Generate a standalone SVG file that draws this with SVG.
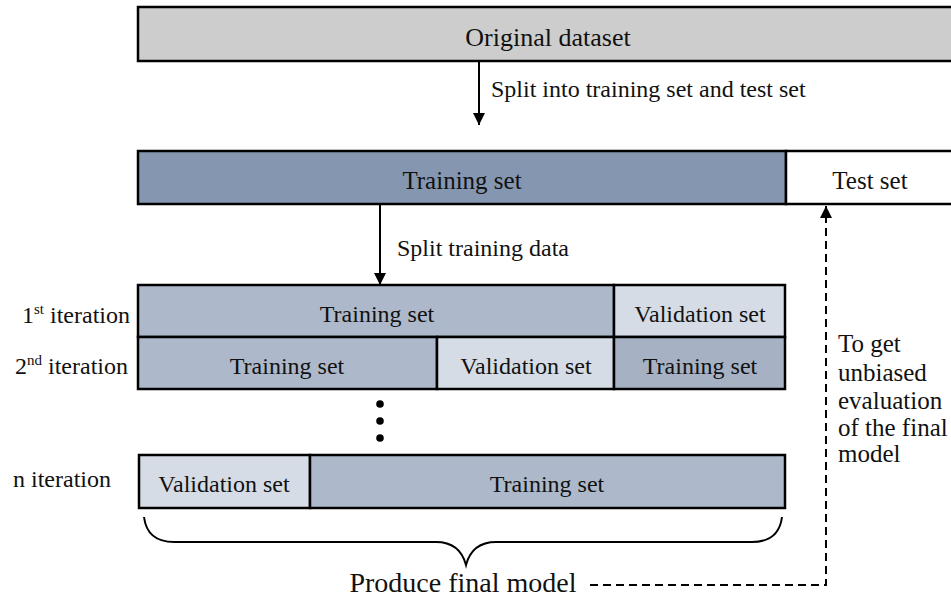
<svg xmlns="http://www.w3.org/2000/svg" width="951" height="598" viewBox="0 0 951 598">
  <defs>
    <style>
      .box { stroke: #000; stroke-width: 2.5; }
      .grey { fill: #cdcdcd; }
      .main { fill: #8496b0; }
      .train { fill: #adb9ca; }
      .train2 { fill: #a6b2c4; }
      .valid { fill: #d6dce5; }
      .white { fill: #ffffff; }
      text { font-family: "Liberation Serif", "Times New Roman", serif; fill: #111; }
      .c { text-anchor: middle; }
      .f24 { font-size: 24px; }
      .f25 { font-size: 25px; }
      .f26 { font-size: 26px; }
      .f28 { font-size: 28px; }
      .link { fill: none; stroke: #000; stroke-width: 2; }
      .dash { fill: none; stroke: #000; stroke-width: 2; stroke-dasharray: 8 5; }
    </style>
    <marker id="head" viewBox="0 0 12 12" refX="12" refY="6" markerWidth="12" markerHeight="12" markerUnits="userSpaceOnUse" orient="auto">
      <path d="M0,0 L12,6 L0,12 Z" fill="#000"/>
    </marker>
  </defs>

  <rect width="951" height="598" fill="#ffffff"/>

  <!-- full dataset -->
  <g id="original">
    <rect class="box grey" x="138" y="7" width="830" height="54"/>
    <text class="c f26" x="548" y="46">Original dataset</text>
  </g>

  <!-- first split -->
  <g id="train-main">
    <rect class="box main" x="138" y="151" width="648" height="53"/>
    <text class="c f25" x="462" y="189">Training set</text>
  </g>
  <g id="test">
    <rect class="box white" x="786" y="151" width="180" height="53"/>
    <text class="c f25" x="870" y="189">Test set</text>
  </g>

  <!-- iteration 1 -->
  <g id="it1">
    <rect class="box train" x="138" y="285" width="476" height="52"/>
    <text class="c f24" x="377" y="322">Training set</text>
    <rect class="box valid" x="614" y="285" width="171" height="52"/>
    <text class="c f24" x="700" y="322">Validation set</text>
  </g>

  <!-- iteration 2 -->
  <g id="it2">
    <rect class="box train" x="138" y="337" width="299" height="52"/>
    <text class="c f24" x="287" y="374">Training set</text>
    <rect class="box valid" x="437" y="337" width="177" height="52"/>
    <text class="c f24" x="526" y="374">Validation set</text>
    <rect class="box train2" x="614" y="337" width="171" height="52"/>
    <text class="c f24" x="700" y="374">Training set</text>
  </g>

  <!-- iteration n -->
  <g id="itn">
    <rect class="box valid" x="139" y="455" width="171" height="53"/>
    <text class="c f24" x="224" y="492">Validation set</text>
    <rect class="box train" x="310" y="455" width="475" height="53"/>
    <text class="c f24" x="547" y="492">Training set</text>
  </g>

  <!-- row labels -->
  <g id="labels">
    <text class="f24" x="22" y="323">1<tspan font-size="15" dy="-9">st</tspan><tspan dy="9"> iteration</tspan></text>
    <text class="f24" x="15" y="374">2<tspan font-size="15" dy="-9">nd</tspan><tspan dy="9"> iteration</tspan></text>
    <text class="f24" x="13" y="487">n iteration</text>
  </g>

  <!-- ellipsis between iterations -->
  <g id="dots" fill="#000">
    <circle cx="380" cy="404" r="3.8"/>
    <circle cx="380" cy="421" r="3.8"/>
    <circle cx="380" cy="438" r="3.8"/>
  </g>

  <!-- final model -->
  <g id="final">
    <text class="c f28" x="463" y="592">Produce final model</text>
  </g>

  <!-- evaluation note -->
  <g id="note">
    <text class="f25" x="838" y="352">To get</text>
    <text class="f25" x="838" y="381">unbiased</text>
    <text class="f25" x="838" y="409">evaluation</text>
    <text class="f25" x="838" y="436">of the final</text>
    <text class="f25" x="838" y="462">model</text>
  </g>

  <!-- connectors -->
  <g id="connectors">
    <line class="link" x1="479" y1="61" x2="479" y2="125" marker-end="url(#head)"/>
    <text class="f24" x="491" y="97">Split into training set and test set</text>
    <line class="link" x1="380" y1="204" x2="380" y2="285" marker-end="url(#head)"/>
    <text class="f24" x="397" y="256">Split training data</text>
    <path class="link" d="M144,517 C146,533 156,542 174,542 L436,542 C452,542 462,550 466,565 C470,550 480,542 496,542 L752,542 C770,542 780,533 782,517"/>
    <path class="dash" d="M590,585 L826,585 L826,206" marker-end="url(#head)"/>
  </g>
</svg>
